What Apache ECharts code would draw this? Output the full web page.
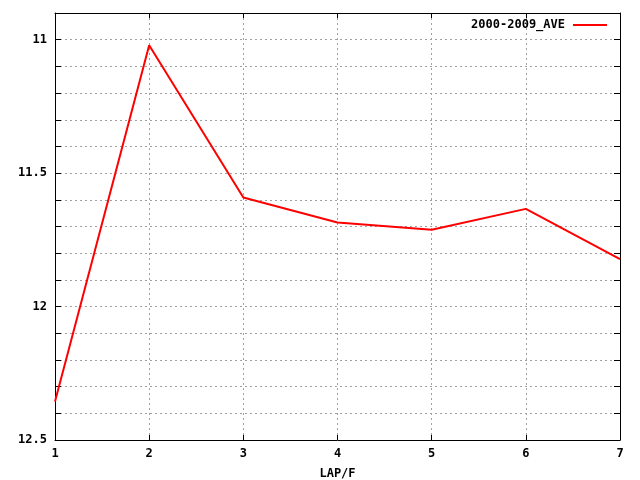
<!DOCTYPE html>
<html>
<head>
<meta charset="utf-8">
<script src="https://cdn.jsdelivr.net/npm/echarts@6/dist/echarts.min.js"></script>
<style>html,body{margin:0;padding:0;background:#fff}#c{width:640px;height:480px}</style>
</head>
<body>
<div id="c"></div>
<script>
var seriesName = '2000-2009_AVE';
var laps = [1, 2, 3, 4, 5, 6, 7];
var aveValues = [12.356, 11.021, 11.591, 11.685, 11.712, 11.634, 11.822];
var xTicks = [1, 2, 3, 4, 5, 6, 7];
var yTickLabels = [11, 11.5, 12, 12.5];

var FONT = 'DejaVu Sans Mono';
var chart = echarts.init(document.getElementById('c'), null, {renderer: 'canvas'});
var gridLine = {show: true, lineStyle: {color: '#a0a0a0', type: [2, 3], width: 1}};
function yLabel(v) {
  for (var i = 0; i < yTickLabels.length; i++) {
    if (Math.abs(v - yTickLabels[i]) < 1e-6) return String(yTickLabels[i]);
  }
  return '';
}
var axisLine = {show: true, lineStyle: {color: '#000', width: 1}};
var option = {
  animation: false,
  backgroundColor: '#fff',
  grid: {left: 55, right: 20, top: 13, bottom: 40, containLabel: false, outerBoundsMode: 'none'},
  legend: {
    show: true, right: 33, top: 19, align: 'right', padding: 0,
    icon: 'rect', itemWidth: 34, itemHeight: 2, itemGap: 8,
    textStyle: {fontFamily: FONT, fontWeight: 'bold', fontSize: 12, color: '#000', padding: [0, 3, 0, 0]},
    data: [seriesName]
  },
  xAxis: [{
    type: 'value', min: 1, max: 7, interval: 1, position: 'bottom',
    name: 'LAP/F', nameLocation: 'middle', nameGap: 28,
    nameTextStyle: {fontFamily: FONT, fontWeight: 'bold', fontSize: 12, color: '#000'},
    axisLine: axisLine,
    axisTick: {show: true, inside: true, length: 5, lineStyle: {color: '#000'}},
    axisLabel: {fontFamily: FONT, fontWeight: 'bold', fontSize: 12, color: '#000', margin: 8,
      formatter: function (v) { return xTicks.indexOf(v) >= 0 ? String(v) : ''; }},
    splitLine: gridLine
  }, {
    type: 'value', min: 1, max: 7, interval: 1, position: 'top',
    axisLine: axisLine,
    axisTick: {show: true, inside: true, length: 5, lineStyle: {color: '#000'}},
    axisLabel: {show: false}, splitLine: {show: false}
  }],
  yAxis: [{
    type: 'value', min: 10.9, max: 12.5, interval: 0.1, inverse: true, position: 'left',
    axisLine: axisLine,
    axisTick: {show: true, inside: true, length: 6, lineStyle: {color: '#000'}},
    axisLabel: {fontFamily: FONT, fontWeight: 'bold', fontSize: 12, color: '#000', margin: 8, formatter: yLabel},
    splitLine: gridLine
  }, {
    type: 'value', min: 10.9, max: 12.5, interval: 0.1, inverse: true, position: 'right',
    axisLine: axisLine,
    axisTick: {show: true, inside: true, length: 6, lineStyle: {color: '#000'}},
    axisLabel: {show: false}, splitLine: {show: false}
  }],
  series: [{
    name: seriesName, type: 'line', xAxisIndex: 0, yAxisIndex: 0,
    data: laps.map(function (x, i) { return [x, aveValues[i]]; }),
    showSymbol: false, symbol: 'none',
    lineStyle: {color: '#ff0000', width: 2},
    itemStyle: {color: '#ff0000'}
  }]
};
chart.setOption(option);
</script>
</body>
</html>
